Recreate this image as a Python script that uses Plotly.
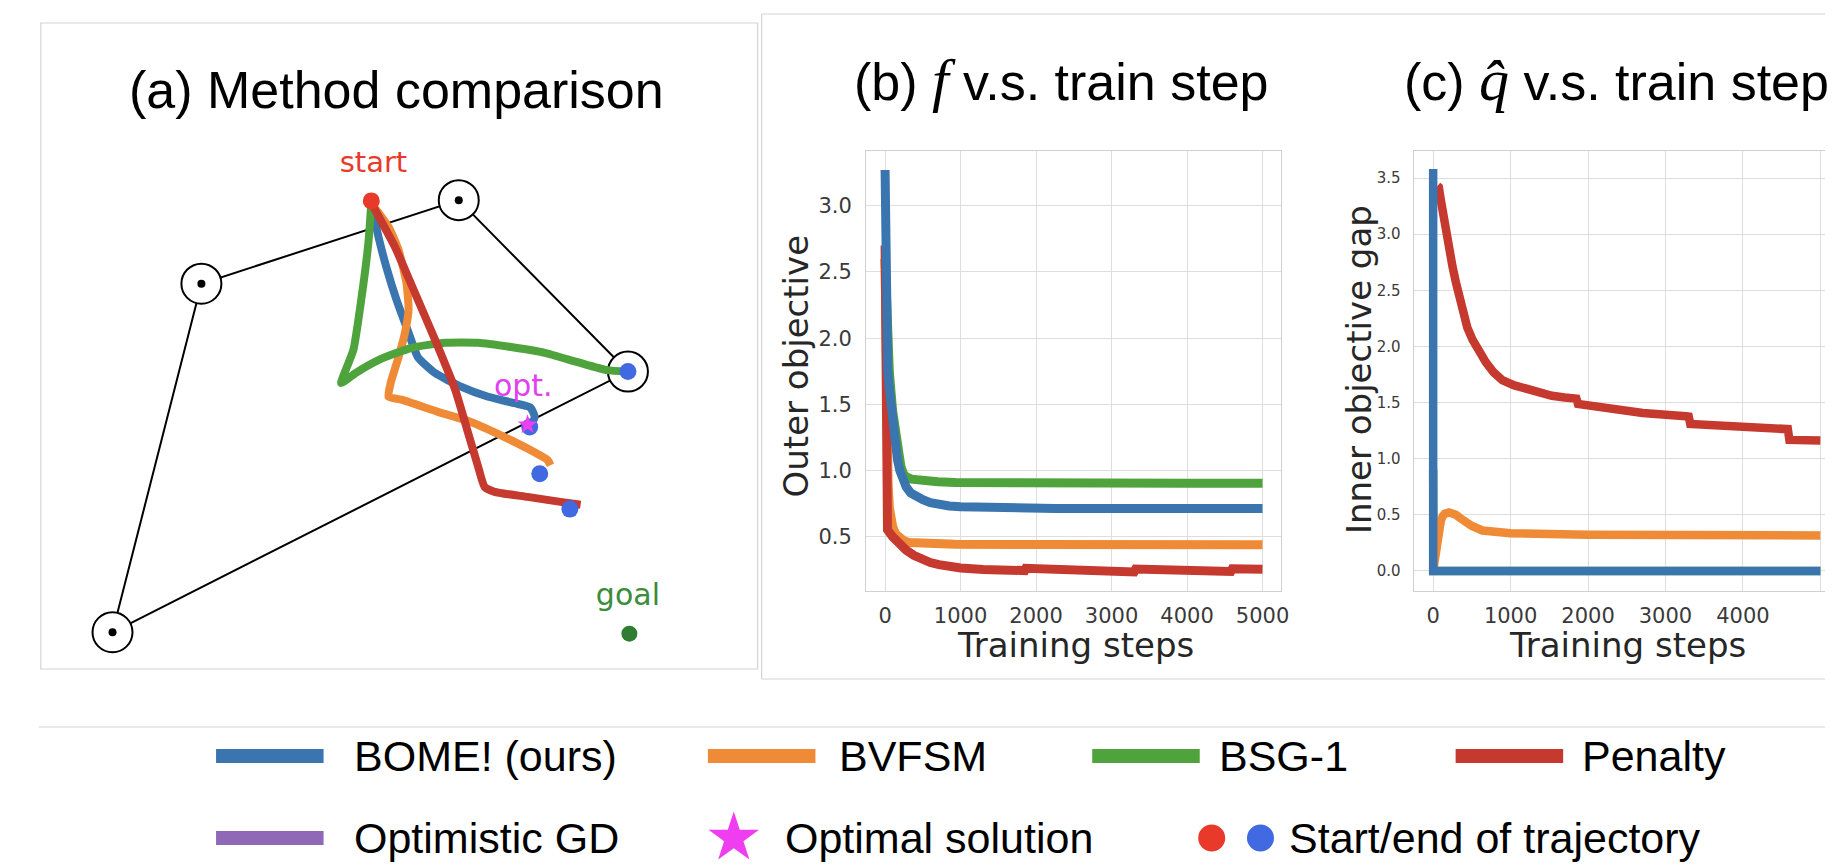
import plotly.graph_objects as go

W, H = 1833, 866

# ---------------- colours ----------------
C_BLUE = "#3a75b0"
C_ORANGE = "#ef8a36"
C_GREEN = "#4fa33c"
C_RED = "#c5392f"
C_PURPLE = "#8f68b8"

# ---------------- (a) Method comparison : planar diagram (arbitrary units) ----------------
poly_u = [1.00, 2.24, 5.83, 8.19, 1.00]
poly_v = [0.51, 5.35, 6.51, 4.13, 0.51]
vertex_u = [1.00, 2.24, 5.83, 8.19]
vertex_v = [0.51, 5.35, 6.51, 4.13]
start_u, start_v = [4.61], [6.50]
goal_u, goal_v = [8.21], [0.49]
opt_u, opt_v = [6.79], [3.39]
end_u = [6.82, 6.96, 7.38, 8.19]
end_v = [3.36, 2.71, 2.22, 4.13]

traj_bome_u = [4.61, 4.71, 4.82, 4.96, 5.13, 5.26, 5.50, 5.86, 6.24, 6.61, 6.83, 6.89, 6.82]
traj_bome_v = [6.47, 6.00, 5.58, 5.13, 4.67, 4.33, 4.11, 3.92, 3.78, 3.69, 3.63, 3.50, 3.36]
traj_bvfsm_u = [4.61, 4.85, 4.99, 5.10, 5.13, 5.08, 4.99, 4.88, 4.85, 5.03, 5.54, 6.00, 6.47, 6.83, 7.07, 7.11]
traj_bvfsm_v = [6.47, 6.14, 5.82, 5.36, 4.99, 4.67, 4.33, 3.97, 3.78, 3.74, 3.57, 3.43, 3.22, 3.04, 2.90, 2.83]
traj_bsg_u = [4.61, 4.57, 4.47, 4.36, 4.19, 4.39, 4.71, 5.17, 5.64, 6.10, 6.56, 7.03, 7.49, 7.90, 8.19]
traj_bsg_v = [6.47, 5.92, 5.13, 4.43, 3.97, 4.11, 4.29, 4.46, 4.53, 4.53, 4.47, 4.39, 4.26, 4.15, 4.13]
traj_pen_u = [4.61, 4.94, 5.22, 5.50, 5.78, 5.96, 6.10, 6.19, 6.33, 6.79, 7.25, 7.53]
traj_pen_v = [6.47, 5.86, 5.22, 4.57, 3.88, 3.28, 2.81, 2.53, 2.46, 2.39, 2.32, 2.28]

# ---------------- (b) outer objective vs training step ----------------
b_bome_x = [0, 5, 12, 20, 35, 60, 80, 100, 120, 140, 165, 195, 230, 280, 340, 420, 500, 600, 710, 850, 1000, 1600, 2250, 3000, 4000, 5000]
b_bome_y = [3.27, 2.60, 2.20, 1.99, 1.76, 1.60, 1.49, 1.36, 1.23, 1.15, 1.08, 1.00, 0.93, 0.875, 0.83, 0.80, 0.78, 0.757, 0.74, 0.732, 0.727, 0.716, 0.713, 0.713, 0.713, 0.713]
b_bsg_x = [0, 10, 30, 57, 100, 145, 180, 210, 240, 276, 350, 494, 700, 931, 1500, 2244, 3000, 4000, 5000]
b_bsg_y = [2.60, 2.30, 2.00, 1.74, 1.45, 1.23, 1.10, 1.03, 0.98, 0.953, 0.935, 0.923, 0.915, 0.910, 0.906, 0.904, 0.904, 0.904, 0.904]
b_bvfsm_x = [0, 10, 25, 40, 57, 80, 100, 140, 188, 250, 319, 500, 931, 2000, 3000, 4000, 5000]
b_bvfsm_y = [2.60, 1.90, 1.20, 0.90, 0.72, 0.63, 0.577, 0.52, 0.49, 0.47, 0.457, 0.450, 0.444, 0.441, 0.440, 0.440, 0.440]
b_pen_x = [0, 3, 6, 32, 100, 180, 276, 380, 494, 600, 713, 850, 1000, 1300, 1588, 1850, 1865, 2200, 2700, 3300, 3320, 3800, 4580, 4600, 5000]
b_pen_y = [2.70, 1.50, 0.58, 0.552, 0.50, 0.45, 0.40, 0.36, 0.327, 0.305, 0.289, 0.275, 0.264, 0.253, 0.246, 0.244, 0.262, 0.255, 0.243, 0.234, 0.256, 0.248, 0.237, 0.258, 0.254]

# ---------------- (c) inner objective gap vs training step ----------------
c_bome_x = [0, 0, 40, 5000]
c_bome_y = [3.58, 0.0, 0.0, 0.0]
c_bsg_x = [0, 5, 5000]
c_bsg_y = [0.90, 0.0, 0.0]
c_bvfsm_x = [0, 25, 59, 80, 100, 125, 150, 205, 250, 294, 350, 400, 500, 636, 800, 1000, 2000, 3000, 4000, 5000]
c_bvfsm_y = [0.0, 0.14, 0.28, 0.38, 0.45, 0.49, 0.51, 0.52, 0.515, 0.50, 0.47, 0.44, 0.40, 0.36, 0.345, 0.335, 0.322, 0.318, 0.316, 0.316]
c_pen_x = [55, 72, 100, 123, 160, 209, 250, 294, 340, 380, 440, 508, 590, 679, 780, 893, 1040, 1192, 1360, 1534, 1700, 1807, 1850, 1870, 2279, 2707, 3263, 3300, 3320, 3778, 4549, 4580, 4600, 5000]
c_pen_y = [3.43, 3.42, 3.30, 3.19, 3.05, 2.87, 2.71, 2.57, 2.42, 2.30, 2.17, 2.06, 1.95, 1.86, 1.77, 1.70, 1.655, 1.62, 1.59, 1.56, 1.545, 1.538, 1.535, 1.487, 1.443, 1.407, 1.378, 1.375, 1.309, 1.286, 1.265, 1.263, 1.167, 1.161]

step_ticks = [0, 1000, 2000, 3000, 4000, 5000]
b_yticks = [0.5, 1.0, 1.5, 2.0, 2.5, 3.0]
c_yticks = [0.0, 0.5, 1.0, 1.5, 2.0, 2.5, 3.0, 3.5]

legend_lines = ["BOME! (ours)", "BVFSM", "BSG-1", "Penalty", "Optimistic GD"]
legend_line_colors = [C_BLUE, C_ORANGE, C_GREEN, C_RED, C_PURPLE]
legend_marker_labels = ["Optimal solution", "Start/end of trajectory"]


def X(px):
    return px / W


def Y(py):
    return 1 - py / H


fig = go.Figure()

# ---------- panel (a) ----------
fig.add_trace(go.Scatter(x=poly_u, y=poly_v, mode="lines", line=dict(color="black", width=2),
                         xaxis="x3", yaxis="y3", hoverinfo="skip"))
fig.add_trace(go.Scatter(x=vertex_u, y=vertex_v, mode="markers",
                         marker=dict(size=40, color="white", line=dict(color="black", width=2)),
                         xaxis="x3", yaxis="y3", hoverinfo="skip"))
fig.add_trace(go.Scatter(x=vertex_u, y=vertex_v, mode="markers",
                         marker=dict(size=8, color="black"), xaxis="x3", yaxis="y3", hoverinfo="skip"))
for u, v, c in [(traj_bome_u, traj_bome_v, C_BLUE), (traj_bvfsm_u, traj_bvfsm_v, C_ORANGE),
                (traj_bsg_u, traj_bsg_v, C_GREEN), (traj_pen_u, traj_pen_v, C_RED)]:
    fig.add_trace(go.Scatter(x=u, y=v, mode="lines", line=dict(color=c, width=8, shape="spline", smoothing=0.5),
                             xaxis="x3", yaxis="y3", hoverinfo="skip"))
fig.add_trace(go.Scatter(x=end_u, y=end_v, mode="markers", marker=dict(size=17, color="#4169e1"),
                         xaxis="x3", yaxis="y3", hoverinfo="skip"))
fig.add_trace(go.Scatter(x=start_u, y=start_v, mode="markers", marker=dict(size=17, color="#e8392a"),
                         xaxis="x3", yaxis="y3", hoverinfo="skip"))
fig.add_trace(go.Scatter(x=goal_u, y=goal_v, mode="markers", marker=dict(size=16, color="#2e7d32"),
                         xaxis="x3", yaxis="y3", hoverinfo="skip"))
fig.add_trace(go.Scatter(x=opt_u, y=opt_v, mode="markers", marker=dict(size=15, symbol="star", color="#ee3ef0"),
                         xaxis="x3", yaxis="y3", hoverinfo="skip"))
fig.add_trace(go.Scatter(x=[start_u[0] + 0.03], y=[start_v[0] + 0.5], mode="text", text=["start"],
                         textfont=dict(family="DejaVu Sans", size=29, color="#e8392a"),
                         xaxis="x3", yaxis="y3", hoverinfo="skip"))
fig.add_trace(go.Scatter(x=[opt_u[0] - 0.06], y=[opt_v[0] + 0.5], mode="text", text=["opt."],
                         textfont=dict(family="DejaVu Sans", size=30, color="#e040f0"),
                         xaxis="x3", yaxis="y3", hoverinfo="skip"))
fig.add_trace(go.Scatter(x=[goal_u[0] - 0.02], y=[goal_v[0] + 0.5], mode="text", text=["goal"],
                         textfont=dict(family="DejaVu Sans", size=30, color="#3b8c3b"),
                         xaxis="x3", yaxis="y3", hoverinfo="skip"))

# ---------- panel (b) ----------
for xs, ys, c in [(b_bsg_x, b_bsg_y, C_GREEN), (b_bvfsm_x, b_bvfsm_y, C_ORANGE),
                  (b_pen_x, b_pen_y, C_RED), (b_bome_x, b_bome_y, C_BLUE)]:
    fig.add_trace(go.Scatter(x=xs, y=ys, mode="lines", line=dict(color=c, width=9),
                             xaxis="x", yaxis="y", hoverinfo="skip"))

# ---------- panel (c) ----------
for xs, ys, c in [(c_bsg_x, c_bsg_y, C_GREEN), (c_bvfsm_x, c_bvfsm_y, C_ORANGE),
                  (c_pen_x, c_pen_y, C_RED), (c_bome_x, c_bome_y, C_BLUE)]:
    fig.add_trace(go.Scatter(x=xs, y=ys, mode="lines", line=dict(color=c, width=8.5),
                             xaxis="x2", yaxis="y2", hoverinfo="skip"))

# ---------- custom legend (pixel overlay axis limited to the bottom strip) ----------
LEG_TOP = 700
row1_y, row2_y = 756, 838
sw_x0 = [217, 711, 1097, 1462, 217]
sw_row = [row1_y, row1_y, row1_y, row1_y, row2_y]
txt_x = [354, 841, 1222, 1587, 354]
for i, name in enumerate(legend_lines):
    fig.add_trace(go.Scatter(x=[sw_x0[i], sw_x0[i] + 108], y=[sw_row[i], sw_row[i]], mode="lines",
                             line=dict(color=legend_line_colors[i], width=14), name=name,
                             xaxis="x4", yaxis="y4", hoverinfo="skip"))
    fig.add_annotation(x=X(txt_x[i]), y=Y(sw_row[i]), xref="paper", yref="paper", text=name,
                       showarrow=False, xanchor="left", yanchor="middle",
                       font=dict(family="Liberation Sans", size=43, color="black"))
fig.add_trace(go.Scatter(x=[737], y=[row2_y], mode="markers", name=legend_marker_labels[0],
                         marker=dict(symbol="star", size=38, color="#ee3ef0"),
                         xaxis="x4", yaxis="y4", hoverinfo="skip"))
fig.add_annotation(x=X(786), y=Y(row2_y), xref="paper", yref="paper", text=legend_marker_labels[0],
                   showarrow=False, xanchor="left", yanchor="middle",
                   font=dict(family="Liberation Sans", size=43, color="black"))
fig.add_trace(go.Scatter(x=[1217, 1266], y=[row2_y, row2_y], mode="markers", name=legend_marker_labels[1],
                         marker=dict(symbol="circle", size=27, color=["#e8392a", "#4169e1"]),
                         xaxis="x4", yaxis="y4", hoverinfo="skip"))
fig.add_annotation(x=X(1293), y=Y(row2_y), xref="paper", yref="paper", text=legend_marker_labels[1],
                   showarrow=False, xanchor="left", yanchor="middle",
                   font=dict(family="Liberation Sans", size=43, color="black"))

# ---------- titles ----------
TITLE_FONT = dict(family="Liberation Sans", size=52, color="black")
fig.add_annotation(x=X(398), y=Y(90), xref="paper", yref="paper", text="(a) Method comparison",
                   showarrow=False, xanchor="center", yanchor="middle", font=TITLE_FONT)
fig.add_annotation(x=X(1066), y=Y(80), xref="paper", yref="paper",
                   text="(b) <span style=\"font-family:'Liberation Serif';font-size:60px\"><i>f</i></span> v.s. train step",
                   showarrow=False, xanchor="center", yanchor="middle", font=TITLE_FONT)
fig.add_annotation(x=X(1624), y=Y(80), xref="paper", yref="paper",
                   text="(c) <span style=\"font-family:'Liberation Serif';font-size:60px\"><i>q\u0302</i></span> v.s. train step",
                   showarrow=False, xanchor="center", yanchor="middle", font=TITLE_FONT)

# axis titles
AX_FONT = dict(family="DejaVu Sans", size=34, color="#262626")
fig.add_annotation(x=X(799), y=Y(366), xref="paper", yref="paper", text="Outer objective", textangle=-90,
                   showarrow=False, xanchor="center", yanchor="middle", font=AX_FONT)
fig.add_annotation(x=X(1365), y=Y(370), xref="paper", yref="paper", text="Inner objective gap", textangle=-90,
                   showarrow=False, xanchor="center", yanchor="middle", font=AX_FONT)
fig.add_annotation(x=X(1080), y=Y(645), xref="paper", yref="paper", text="Training steps",
                   showarrow=False, xanchor="center", yanchor="middle", font=AX_FONT)
fig.add_annotation(x=X(1635), y=Y(645), xref="paper", yref="paper", text="Training steps",
                   showarrow=False, xanchor="center", yanchor="middle", font=AX_FONT)

# ---------- frame lines ----------
FRAME = "#d4d4d4"
shapes = [
    dict(type="rect", xref="paper", yref="paper", x0=X(41), x1=X(761), y0=Y(669), y1=Y(23),
         line=dict(color=FRAME, width=1.2)),
    dict(type="line", xref="paper", yref="paper", x0=X(765), x1=1, y0=Y(14), y1=Y(14), line=dict(color=FRAME, width=1.2)),
    dict(type="line", xref="paper", yref="paper", x0=X(765), x1=X(765), y0=Y(14), y1=Y(679), line=dict(color=FRAME, width=1.2)),
    dict(type="line", xref="paper", yref="paper", x0=X(765), x1=1, y0=Y(679), y1=Y(679), line=dict(color=FRAME, width=1.2)),
    dict(type="line", xref="paper", yref="paper", x0=X(39), x1=1, y0=Y(727), y1=Y(727), line=dict(color="#e2e2e2", width=1.5)),
]

GRID = "#dedede"
SPINE = "#d0d0d0"
TICK_FONT = dict(family="DejaVu Sans", size=21, color="#3a3a3a")
NOTICK = "rgba(0,0,0,0)"

fig.update_layout(
    width=W, height=H,
    margin=dict(l=0, r=0, t=0, b=0),
    paper_bgcolor="white", plot_bgcolor="rgba(0,0,0,0)",
    showlegend=False,
    shapes=shapes,
    xaxis=dict(domain=[X(870), X(1287)], range=[-250, 5250], tickvals=step_ticks, showgrid=True,
               gridcolor=GRID, gridwidth=1.3, zeroline=False, showline=True, mirror=True,
               linecolor=SPINE, linewidth=1.3, tickfont=TICK_FONT, ticks="outside", ticklen=6,
               tickcolor=NOTICK, anchor="y"),
    yaxis=dict(domain=[Y(591), Y(151)], range=[0.09, 3.414], tickvals=b_yticks, tickformat=".1f",
               showgrid=True, gridcolor=GRID, gridwidth=1.3, zeroline=False, showline=True, mirror=True,
               linecolor=SPINE, linewidth=1.3, tickfont=TICK_FONT, ticks="outside", ticklen=9,
               tickcolor=NOTICK, anchor="x"),
    xaxis2=dict(domain=[X(1420), 1.0], range=[-250, 5060], tickvals=step_ticks, showgrid=True,
                gridcolor=GRID, gridwidth=1.3, zeroline=False, showline=True, mirror=True,
                linecolor=SPINE, linewidth=1.3, tickfont=TICK_FONT, ticks="outside", ticklen=6,
                tickcolor=NOTICK, anchor="y2"),
    yaxis2=dict(domain=[Y(591), Y(151)], range=[-0.179, 3.741], tickvals=c_yticks, tickformat=".1f",
                showgrid=True, gridcolor=GRID, gridwidth=1.3, zeroline=False, showline=True, mirror=False,
                linecolor=SPINE, linewidth=1.3, tickfont=dict(family="DejaVu Sans", size=15, color="#3a3a3a"),
                ticks="outside", ticklen=9, tickcolor=NOTICK, anchor="x2"),
    xaxis3=dict(domain=[X(41), X(761)], range=[0, 10], visible=False, anchor="y3"),
    yaxis3=dict(domain=[Y(669), Y(23)], range=[0, 8.97], visible=False, anchor="x3"),
    xaxis4=dict(domain=[0, 1], range=[0, W], visible=False, anchor="y4"),
    yaxis4=dict(domain=[0, Y(LEG_TOP)], range=[H, LEG_TOP], visible=False, anchor="x4"),
)

fig.write_html("out.html", config={"displayModeBar": False},
               post_script="document.body.style.margin='0';document.body.style.overflow='hidden';")
